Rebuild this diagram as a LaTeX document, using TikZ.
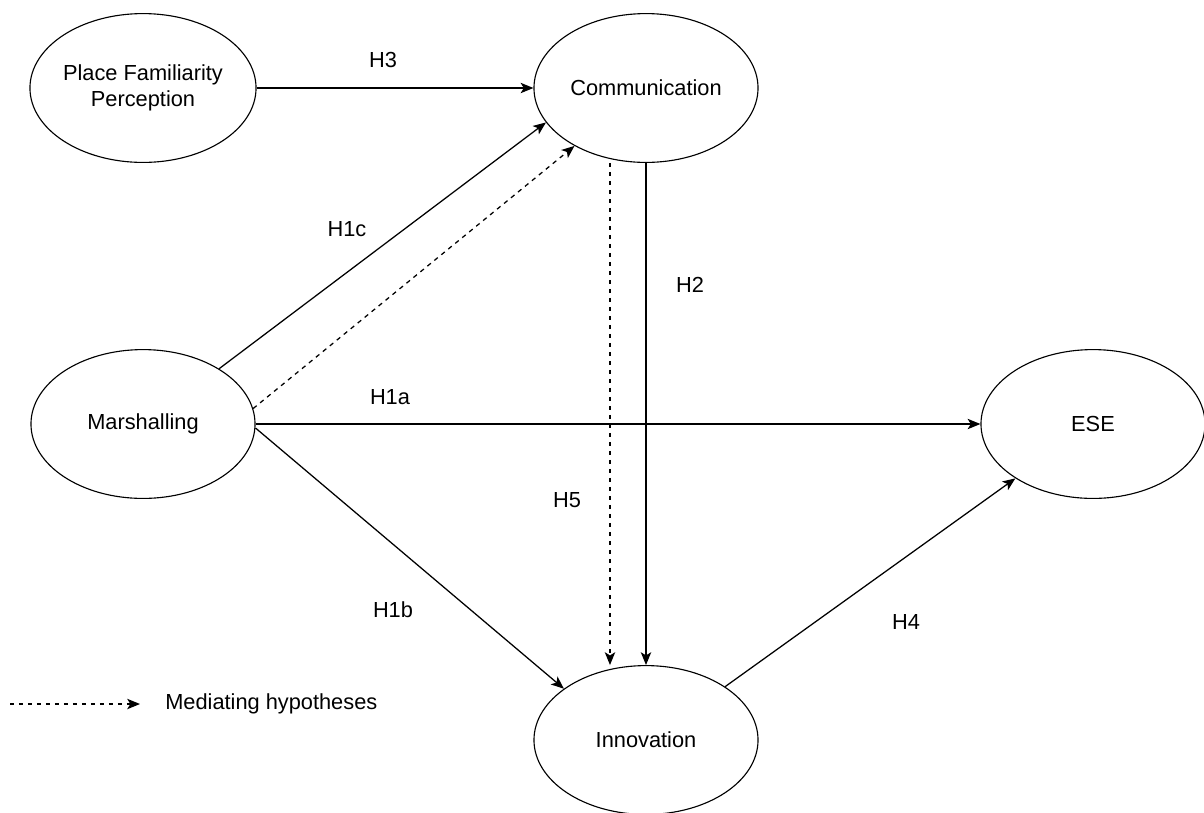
\documentclass[tikz,border=0pt]{standalone}
\usepackage{fontspec}
\setmainfont{Liberation Sans}
\usetikzlibrary{arrows.meta,shapes.geometric}

\tikzset{
  construct/.style={draw, ellipse, line width=0.8pt, minimum width=5.6cm, minimum height=3.72cm, inner sep=0pt, align=center, font=\fontsize{15.5}{18.5}\selectfont},
  hpath/.style={line width=0.9pt, -{Stealth[length=0.32cm, width=0.26cm, inset=0.08cm]}},
  med/.style={hpath, dash pattern=on 3.2pt off 3.2pt},
  hyp/.style={font=\fontsize{15.5}{18.5}\selectfont, inner sep=0pt}
}

\begin{document}
\begin{tikzpicture}[x=0.025cm, y=-0.025cm]
  \useasboundingbox (0,0) rectangle (1204,812);

  % Konstrukte
  \node[construct] (pfp) at (143,88) {Place Familiarity\\Perception};
  \node[construct] (comm) at (646,88) {Communication};
  \node[construct] (mars) at (143,424) {Marshalling};
  \node[construct] (ese) at (1093,424) {ESE};
  \node[construct] (inno) at (646,740) {Innovation};

  % Pfade
  \draw[hpath] (pfp.east) -- (comm.west);
  \draw[hpath] (mars.36.7) -- (comm.199.7);
  \draw[med] (mars.8.8) -- (comm.219.4);
  \draw[hpath] (mars.east) -- (ese.west);
  \draw[hpath] (mars.-2) -- (inno.148.3);
  \draw[hpath] (comm.south) -- (inno.north);
  \draw[med] ([xshift=-0.9cm]comm.south) -- ([xshift=-0.9cm]inno.north);
  \draw[hpath] (inno.34.5) -- (ese.215.8);

  % Hypothesen
  \node[hyp] (h3) at (383,60) {H3};
  \node[hyp] (h1c) at (347,229) {H1c};
  \node[hyp] (h1a) at (390,397) {H1a};
  \node[hyp] (h2) at (690,285) {H2};
  \node[hyp] (h5) at (567,500) {H5};
  \node[hyp] (h1b) at (393,610) {H1b};
  \node[hyp] (h4) at (906,622) {H4};

  % Legende
  \coordinate (lgs) at (10,704);
  \coordinate (lge) at (140,704);
  \draw[med] (lgs) -- (lge);
  \node[hyp, anchor=west] (lgtext) at (165,704) {Mediating hypotheses};
\end{tikzpicture}
\end{document}
